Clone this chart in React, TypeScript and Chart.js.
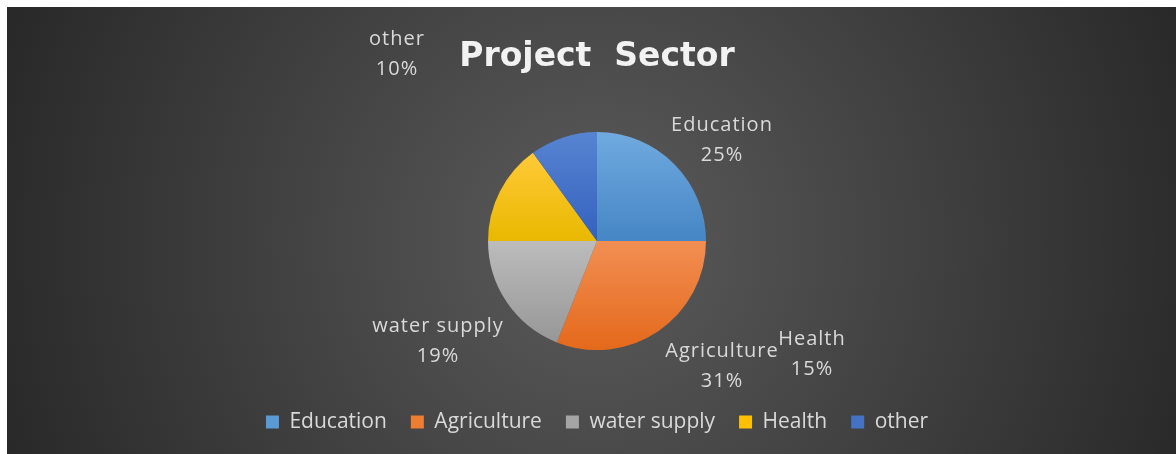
import { useEffect, useRef } from 'react';
import { Chart, registerables } from 'chart.js';

Chart.register(...registerables);

const CATEGORIES = ['Education', 'Agriculture', 'water supply', 'Health', 'other'];
const VALUES = [25, 31, 19, 15, 10];
const TITLE = 'Project  Sector';

const BASE_COLORS = ['#5b9bd5', '#ed7d31', '#a5a5a5', '#ffc000', '#4472c4'];
const LIGHT_COLORS = ['#70aae0', '#f28e53', '#bcbcbc', '#ffca38', '#5784d1'];
const DARK_COLORS = ['#4686c5', '#e4691b', '#979797', '#e9b800', '#3461be'];

// label placement (pixel offsets from the pie centre), styling only
const LABEL_OFFSETS = [
  [125, -101],
  [125, 125],
  [-159, 100],
  [215, 113],
  [-200, -187],
];
const PIE_RADIUS = 109;
const LABEL_COLOR = '#d9d9d9';

const total = VALUES.reduce((a, b) => a + b, 0);

function sliceGradient(c: any) {
  const chart = c.chart;
  const area = chart.chartArea;
  const i = c.dataIndex;
  if (!area || c.type !== 'data') return BASE_COLORS[i] || '#888';
  const cy = (area.top + area.bottom) / 2;
  let before = 0;
  for (let k = 0; k < i; k++) before += VALUES[k];
  const start = -Math.PI / 2 + (before / total) * Math.PI * 2;
  const end = start + (VALUES[i] / total) * Math.PI * 2;
  const ys = [cy, cy + PIE_RADIUS * Math.sin(start), cy + PIE_RADIUS * Math.sin(end)];
  [-Math.PI / 2, Math.PI / 2, (3 * Math.PI) / 2].forEach((a) => {
    if (a > start && a < end) ys.push(cy + PIE_RADIUS * Math.sin(a));
  });
  const y0 = Math.min(...ys);
  const y1 = Math.max(...ys);
  const g = chart.ctx.createLinearGradient(0, y0, 0, y1 === y0 ? y0 + 1 : y1);
  g.addColorStop(0, LIGHT_COLORS[i]);
  g.addColorStop(1, DARK_COLORS[i]);
  return g;
}

const backgroundPlugin = {
  id: 'bgGradient',
  beforeDraw(chart: any) {
    const { ctx, width, height, chartArea } = chart;
    const cx = (chartArea.left + chartArea.right) / 2;
    const cy = (chartArea.top + chartArea.bottom) / 2;
    const g = ctx.createRadialGradient(cx, cy, 0, cx, cy, 660);
    g.addColorStop(0, '#5b5b5b');
    g.addColorStop(1, '#262626');
    ctx.save();
    ctx.fillStyle = g;
    ctx.fillRect(0, 0, width, height);
    ctx.restore();
  },
};

const labelPlugin = {
  id: 'sliceLabels',
  afterDatasetsDraw(chart: any) {
    const { ctx } = chart;
    const meta = chart.getDatasetMeta(0);
    ctx.save();
    ctx.fillStyle = LABEL_COLOR;
    ctx.font = '20px "Open Sans", sans-serif';
    (ctx as any).letterSpacing = '1px';
    ctx.textAlign = 'center';
    ctx.textBaseline = 'middle';
    meta.data.forEach((arc: any, i: number) => {
      const [dx, dy] = LABEL_OFFSETS[i];
      const x = arc.x + dx;
      const y = arc.y + dy;
      const pct = Math.round((VALUES[i] / total) * 100) + '%';
      ctx.fillText(CATEGORIES[i], x, y - 15);
      ctx.fillText(pct, x, y + 15);
    });
    ctx.restore();
  },
};

export default function App() {
  const ref = useRef<HTMLCanvasElement | null>(null);

  useEffect(() => {
    if (!ref.current) return;
    const chart = new Chart(ref.current, {
      type: 'pie',
      data: {
        labels: CATEGORIES,
        datasets: [
          {
            data: VALUES,
            backgroundColor: sliceGradient as any,
            borderWidth: 0,
            radius: PIE_RADIUS,
          } as any,
        ],
      },
      options: {
        animation: false,
        responsive: true,
        maintainAspectRatio: false,
        layout: { padding: { left: 11, right: 0, top: 0, bottom: 11.5 } },
        plugins: {
          title: {
            display: true,
            text: TITLE,
            color: '#f2f2f2',
            font: { family: '"DejaVu Sans", sans-serif', size: 33, weight: 'bold' },
            padding: { top: 31, bottom: 17 },
          },
          legend: {
            display: true,
            position: 'bottom',
            labels: {
              color: LABEL_COLOR,
              font: { family: '"Open Sans", sans-serif', size: 21 },
              boxWidth: 13,
              boxHeight: 13,
              padding: 24,
              generateLabels: () =>
                CATEGORIES.map((t, i) => ({
                  text: t,
                  fillStyle: BASE_COLORS[i],
                  strokeStyle: BASE_COLORS[i],
                  lineWidth: 0,
                  fontColor: LABEL_COLOR,
                  hidden: false,
                  index: i,
                })),
            },
          },
          tooltip: { enabled: false },
        },
      },
      plugins: [backgroundPlugin, labelPlugin],
    });
    return () => chart.destroy();
  }, []);

  return (
    <div style={{ position: 'fixed', left: 7, top: 7, width: 1169, height: 447 }}>
      <canvas ref={ref} />
    </div>
  );
}
